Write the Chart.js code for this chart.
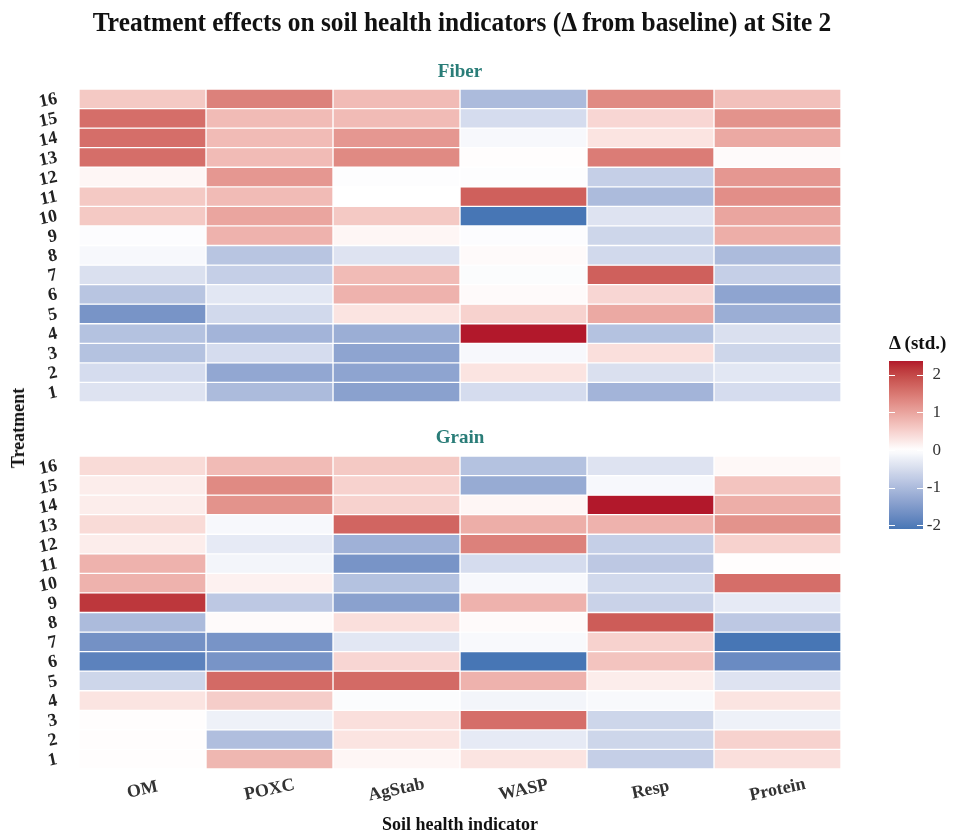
<!DOCTYPE html>
<html>
<head>
<meta charset="utf-8">
<script src="https://cdn.jsdelivr.net/npm/chart.js@4.4.1/dist/chart.umd.min.js"></script>
<style>
  html, body { margin: 0; padding: 0; background: #ffffff; }
  #page { position: relative; width: 960px; height: 832px; overflow: hidden;
          font-family: "Liberation Serif", "Times New Roman", serif; }
  .box { position: absolute; }
  .txt { position: absolute; font-weight: bold; white-space: nowrap; line-height: 1; }
</style>
</head>
<body>
<div id="page">
  <div class="box" style="left:0;top:0;width:960px;height:410px"><canvas id="fiber"></canvas></div>
  <div class="box" style="left:0;top:410px;width:960px;height:422px"><canvas id="grain"></canvas></div>
  <div class="box" style="left:860px;top:340px;width:100px;height:220px"><canvas id="legend"></canvas></div>

  <div class="txt" style="left:462px;top:22px;font-size:27px;color:#111;transform:translate(-50%,-50%) scaleX(0.94)">Treatment effects on soil health indicators (Δ from baseline) at Site 2</div>
  <div class="txt" style="left:460px;top:70px;font-size:19px;color:#2a7d78;transform:translate(-50%,-50%)">Fiber</div>
  <div class="txt" style="left:460px;top:436px;font-size:19px;color:#2a7d78;transform:translate(-50%,-50%)">Grain</div>
  <div class="txt" style="left:18px;top:428px;font-size:18px;color:#111;transform:translate(-50%,-50%) rotate(-90deg)">Treatment</div>
  <div class="txt" style="left:460px;top:824px;font-size:18px;color:#111;transform:translate(-50%,-50%)">Soil health indicator</div>
  <div class="txt" style="left:889px;top:342px;font-size:19px;color:#111;transform:translate(0,-50%)">Δ (std.)</div>
</div>

<script>
// Indicators (columns) and treatments (rows)
const indicators = ['OM', 'POXC', 'AgStab', 'WASP', 'Resp', 'Protein'];
const treatments = ['1','2','3','4','5','6','7','8','9','10','11','12','13','14','15','16'];
const legendTicks = [-2, -1, 0, 1, 2];

// Fiber: standardized change from baseline, treatments 1..16
const fiberOM      = [-0.40, -0.50, -0.90, -0.90, -1.60, -0.85, -0.45, -0.10, -0.04,  0.60,  0.60,  0.10,  1.60,  1.60,  1.60,  0.60];
const fiberPOXC    = [-1.00, -1.30, -0.50, -1.10, -0.55, -0.35, -0.70, -0.85,  0.85,  1.00,  0.75,  1.15,  0.75,  0.75,  0.75,  1.40];
const fiberAgStab  = [-1.40, -1.35, -1.35, -1.20,  0.30,  0.85,  0.75, -0.40,  0.10,  0.60,  0.00, -0.03,  1.30,  1.15,  0.75,  0.75];
const fiberWASP    = [-0.50,  0.30, -0.10,  2.37,  0.50,  0.05, -0.05,  0.05, -0.04, -2.10,  1.75, -0.03,  0.02, -0.10, -0.50, -1.00];
const fiberResp    = [-1.10, -0.45,  0.35, -0.90,  0.95,  0.45,  1.75, -0.55, -0.60, -0.40, -1.00, -0.70,  1.45,  0.30,  0.45,  1.30];
const fiberProtein = [-0.50, -0.35, -0.60, -0.45, -1.20, -1.35, -0.70, -1.00,  0.90,  1.00,  1.25,  1.15,  0.05,  0.95,  1.20,  0.70];

// Grain: standardized change from baseline, treatments 1..16
const grainOM      = [ 0.02,  0.02,  0.02,  0.30, -0.60, -1.90, -1.65, -1.00,  2.15,  0.85,  0.85,  0.20,  0.40,  0.20,  0.20,  0.40];
const grainPOXC    = [ 0.80, -0.95, -0.20,  0.55,  1.65, -1.60, -1.60,  0.05, -0.80,  0.15, -0.15, -0.30, -0.10,  1.20,  1.30,  0.75];
const grainAgStab  = [ 0.10,  0.30,  0.35, -0.05,  1.65,  0.45, -0.35,  0.35, -1.40, -0.90, -1.60, -1.15,  1.70,  0.50,  0.50,  0.60];
const grainWASP    = [ 0.30, -0.30,  1.60, -0.15,  0.85, -2.10, -0.08,  0.05,  0.85, -0.10, -0.50,  1.40,  0.90,  0.10, -1.25, -0.90];
const grainResp    = [-0.70, -0.60, -0.60, -0.08,  0.20,  0.65,  0.50,  1.80, -0.65, -0.55, -0.80, -0.70,  0.85,  2.37, -0.10, -0.40];
const grainProtein = [ 0.35,  0.50, -0.20,  0.30, -0.40, -1.75, -2.10, -0.80, -0.30,  1.60,  0.02,  0.50,  1.20,  0.90,  0.65,  0.08];

const fiberColumns = [fiberOM, fiberPOXC, fiberAgStab, fiberWASP, fiberResp, fiberProtein];
const grainColumns = [grainOM, grainPOXC, grainAgStab, grainWASP, grainResp, grainProtein];

// Diverging fill: low -> white -> high, interpolated in CIELAB around 0
const LOW = '#2166AC', MID = '#FFFFFF', HIGH = '#B2182B';
const allValues = fiberColumns.concat(grainColumns).flat();
const lo = Math.min(...allValues), hi = Math.max(...allValues);
const maxAbs = Math.max(Math.abs(lo), Math.abs(hi));

function hexToRgb(h) { return [1, 3, 5].map(i => parseInt(h.slice(i, i + 2), 16)); }
function toLin(c) { c /= 255; return c <= 0.04045 ? c / 12.92 : Math.pow((c + 0.055) / 1.055, 2.4); }
function toSrgb(c) {
  const v = c <= 0.0031308 ? 12.92 * c : 1.055 * Math.pow(c, 1 / 2.4) - 0.055;
  return Math.round(Math.max(0, Math.min(1, v)) * 255);
}
function rgbToLab(rgb) {
  const [r, g, b] = rgb.map(toLin);
  const X = (0.4124 * r + 0.3576 * g + 0.1805 * b) / 0.95047;
  const Y = 0.2126 * r + 0.7152 * g + 0.0722 * b;
  const Z = (0.0193 * r + 0.1192 * g + 0.9505 * b) / 1.08883;
  const f = t => t > 0.008856 ? Math.cbrt(t) : 7.787 * t + 16 / 116;
  const fx = f(X), fy = f(Y), fz = f(Z);
  return [116 * fy - 16, 500 * (fx - fy), 200 * (fy - fz)];
}
function labToRgb([L, a, b]) {
  const fy = (L + 16) / 116, fx = fy + a / 500, fz = fy - b / 200;
  const inv = t => (t * t * t > 0.008856 ? t * t * t : (t - 16 / 116) / 7.787);
  const X = inv(fx) * 0.95047, Y = inv(fy), Z = inv(fz) * 1.08883;
  const r = 3.2406 * X - 1.5372 * Y - 0.4986 * Z;
  const g = -0.9689 * X + 1.8758 * Y + 0.0415 * Z;
  const bl = 0.0557 * X - 0.2040 * Y + 1.0570 * Z;
  return [r, g, bl].map(toSrgb);
}
const labLow = rgbToLab(hexToRgb(LOW)), labMid = rgbToLab(hexToRgb(MID)), labHigh = rgbToLab(hexToRgb(HIGH));
function fillFor(v) {
  const t = Math.max(0, Math.min(1, 0.5 + v / (2 * maxAbs)));
  let a, b, f;
  if (t < 0.5) { a = labLow; b = labMid; f = t / 0.5; }
  else { a = labMid; b = labHigh; f = (t - 0.5) / 0.5; }
  const lab = a.map((c, i) => c + (b[i] - c) * f);
  const [r, g, bl] = labToRgb(lab);
  return `rgb(${r},${g},${bl})`;
}

const serif = '"Liberation Serif", "Times New Roman", serif';

// Tilted tick labels for the heatmap axes
const tiltedTicks = {
  id: 'tiltedTicks',
  afterDraw(chart, args, opts) {
    const { ctx, scales: { x, y } } = chart;
    const ang = -12 * Math.PI / 180;
    ctx.save();
    ctx.fillStyle = '#222';
    ctx.font = 'bold 18px ' + serif;
    ctx.textBaseline = 'middle';
    ctx.textAlign = 'right';
    treatments.forEach((lab, i) => {
      ctx.save();
      ctx.translate(x.left - 22, y.getPixelForValue(i));
      ctx.rotate(ang);
      ctx.fillText(lab, 0, 0);
      ctx.restore();
    });
    if (opts.showX) {
      ctx.fillStyle = '#333';
      ctx.textAlign = 'center';
      indicators.forEach((lab, i) => {
        ctx.save();
        ctx.translate(x.getPixelForValue(i + 0.5), y.bottom + 21);
        ctx.rotate(ang);
        ctx.fillText(lab, 0, 0);
        ctx.restore();
      });
    }
    ctx.restore();
  }
};

function heatmap(id, columns, padding, showX) {
  const datasets = columns.map((vals, c) => ({
    label: indicators[c],
    data: vals.map(() => [c, c + 1]),
    backgroundColor: vals.map(fillFor),
    borderColor: '#ffffff',
    borderWidth: 1,
    borderSkipped: false,
    barPercentage: 1,
    categoryPercentage: 1,
    grouped: false
  }));
  return new Chart(document.getElementById(id), {
    type: 'bar',
    data: { labels: treatments, datasets },
    options: {
      indexAxis: 'y',
      responsive: true,
      maintainAspectRatio: false,
      animation: false,
      layout: { padding },
      plugins: { legend: { display: false }, tooltip: { enabled: false }, tiltedTicks: { showX } },
      scales: {
        x: { type: 'linear', min: 0, max: indicators.length, display: false },
        y: { type: 'category', reverse: true, display: false }
      }
    },
    plugins: [tiltedTicks]
  });
}

heatmap('fiber', fiberColumns, { left: 79, right: 119, top: 89, bottom: 8 }, false);
heatmap('grain', grainColumns, { left: 79, right: 119, top: 46, bottom: 63 }, true);

// Colour bar with white tick marks on both edges
const barTicks = {
  id: 'barTicks',
  afterDatasetsDraw(chart) {
    const { ctx, chartArea: a, scales: { y } } = chart;
    ctx.save();
    ctx.strokeStyle = '#ffffff';
    ctx.lineWidth = 1.2;
    legendTicks.forEach(v => {
      const py = Math.round(y.getPixelForValue(v)) + 0.5;
      ctx.beginPath();
      ctx.moveTo(a.left, py); ctx.lineTo(a.left + 6, py);
      ctx.moveTo(a.right - 6, py); ctx.lineTo(a.right, py);
      ctx.stroke();
    });
    ctx.restore();
  }
};

new Chart(document.getElementById('legend'), {
  type: 'bar',
  data: {
    labels: [''],
    datasets: [{
      data: [[lo, hi]],
      backgroundColor(ctx) {
        const a = ctx.chart.chartArea;
        if (!a) return null;
        const g = ctx.chart.ctx.createLinearGradient(0, a.bottom, 0, a.top);
        const n = 40;
        for (let k = 0; k <= n; k++) g.addColorStop(k / n, fillFor(lo + (hi - lo) * k / n));
        return g;
      },
      borderWidth: 0,
      barPercentage: 1,
      categoryPercentage: 1
    }]
  },
  options: {
    responsive: true,
    maintainAspectRatio: false,
    animation: false,
    layout: { padding: { left: 29, right: 19, top: 21, bottom: 31 } },
    plugins: { legend: { display: false }, tooltip: { enabled: false } },
    scales: {
      x: { display: false },
      y: {
        position: 'right', min: lo, max: hi,
        grid: { display: false, drawTicks: false }, border: { display: false },
        afterBuildTicks(s) { s.ticks = legendTicks.map(v => ({ value: v })); },
        afterFit(s) { s.width = 18; },
        ticks: { padding: 4, crossAlign: 'far', color: '#333', font: { family: serif, size: 17 } }
      }
    }
  },
  plugins: [barTicks]
});
</script>
</body>
</html>
